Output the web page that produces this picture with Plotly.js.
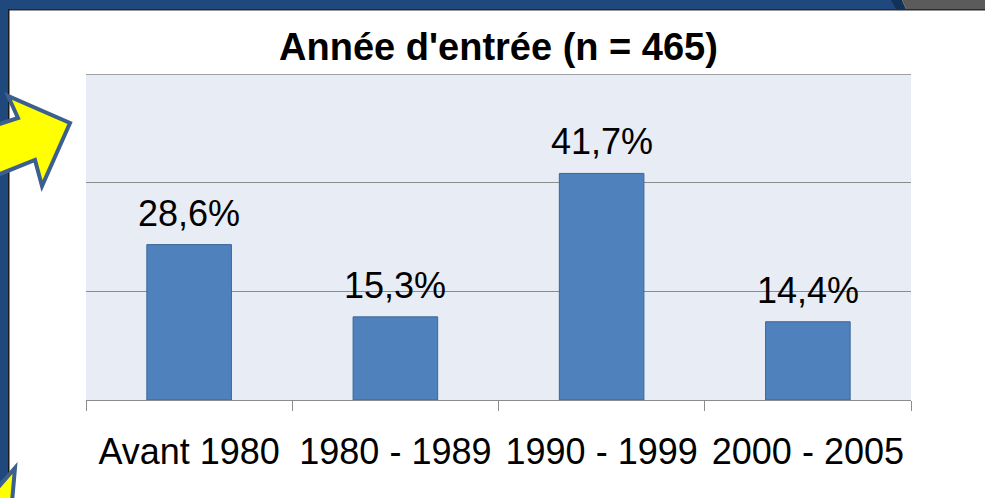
<!DOCTYPE html>
<html>
<head>
<meta charset="utf-8">
<script src="https://cdn.plot.ly/plotly-3.0.1.min.js"></script>
<style>
  html, body { margin: 0; padding: 0; background: #ffffff; }
  #wrap { position: relative; width: 985px; height: 498px; overflow: hidden; background: #ffffff; }
  #chart { position: absolute; left: 0; top: 0; width: 985px; height: 498px; }
  #deco { position: absolute; left: 0; top: 0; pointer-events: none; }
</style>
</head>
<body>
<div id="wrap">
  <div id="chart"></div>
  <svg id="deco" width="985" height="498" xmlns="http://www.w3.org/2000/svg">
    <!-- slide frame -->
    <rect x="0" y="0" width="900" height="9" fill="#1f497d"/>
    <polygon points="891,0 902,0 906,9 896,9" fill="#13325a"/>
    <polygon points="902,0 985,0 985,9 906,9" fill="#5b5b5b"/>
    <rect x="0" y="0" width="8" height="498" fill="#1f497d"/>
    <rect x="8" y="9" width="977" height="1.5" fill="#2b2b2b"/>
    <rect x="8" y="9" width="1.5" height="489" fill="#1a1a1a"/>
    <!-- yellow arrows -->
    <polygon points="-10,127 18,118 8,96 70,123 42,186 35,160 -10,178"
             fill="#ffff00" stroke="#3b5f8e" stroke-width="4" stroke-linejoin="miter"/>
    <polygon points="-6,492 15,468 12,502 -6,502"
             fill="#ffff00" stroke="#3b5f8e" stroke-width="4" stroke-linejoin="miter"/>
  </svg>
</div>
<script>
const categories = ["Avant 1980", "1980 - 1989", "1990 - 1999", "2000 - 2005"];
const values = [28.6, 15.3, 41.7, 14.4];
const titleText = "Année d'entrée (n = 465)";
const yTicks = [0, 20, 40, 60];

const fontFamily = "'Liberation Sans', Arial, sans-serif";

const labelText = values.map(v => v.toFixed(1).replace('.', ',') + '%');

const annotations = categories.map((c, i) => ({
  x: c, y: values[i], xref: 'x', yref: 'y',
  text: labelText[i], showarrow: false,
  xanchor: 'center', yanchor: 'bottom', yshift: 9,
  font: { family: fontFamily, size: 36, color: '#000000' }
}));

const trace = {
  type: 'bar',
  x: categories,
  y: values,
  width: 0.41,
  marker: { color: '#4f81bd', line: { color: '#3a669a', width: 1 } },
  hoverinfo: 'none'
};

const yMax = yTicks[yTicks.length - 1];

const layout = {
  width: 985, height: 498,
  margin: { l: 86, r: 74, t: 74, b: 98, pad: 0 },
  paper_bgcolor: 'rgba(0,0,0,0)',
  plot_bgcolor: '#e8ecf4',
  showlegend: false,
  separators: ', ',
  title: {
    text: '<b>' + titleText + '</b>',
    font: { family: fontFamily, size: 38, color: '#000000' },
    x: 0.5, xref: 'paper', xanchor: 'center',
    y: 1 - 47 / 498, yref: 'container', yanchor: 'middle'
  },
  xaxis: {
    type: 'category',
    tickson: 'boundaries',
    ticks: 'outside', ticklen: 10, tickwidth: 1, tickcolor: '#8c8c8c',
    showline: true, linecolor: '#8c8c8c', linewidth: 1,
    showgrid: false, zeroline: false,
    tickangle: 0,
    ticklabelstandoff: 20,
    tickfont: { family: fontFamily, size: 36, color: '#000000' },
    fixedrange: true
  },
  yaxis: {
    range: [0, yMax],
    tickvals: yTicks,
    showticklabels: false,
    showgrid: true, gridcolor: '#8c8c8c', gridwidth: 1,
    zeroline: false, showline: false, ticks: '',
    fixedrange: true
  },
  shapes: [{
    type: 'line', xref: 'paper', yref: 'y',
    x0: 0, x1: 1, y0: yMax, y1: yMax,
    line: { color: '#a0a0a0', width: 2 }
  }],
  annotations: annotations
};

Plotly.newPlot('chart', [trace], layout, { displayModeBar: false, staticPlot: true });
</script>
</body>
</html>
